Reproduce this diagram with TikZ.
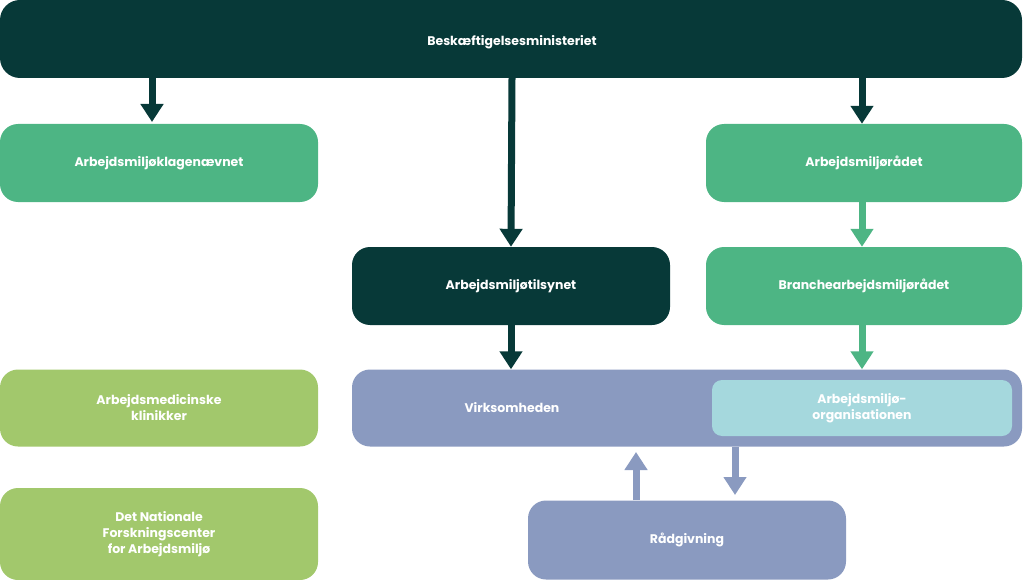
\documentclass[tikz,border=0pt]{standalone}
\usepackage{fontspec}
\setmainfont{Poppins}
\usetikzlibrary{arrows.meta}
\definecolor{dark}{HTML}{073938}
\definecolor{grn}{HTML}{4DB584}
\definecolor{lgrn}{HTML}{A2C86C}
\definecolor{blu}{HTML}{8A9AC0}
\definecolor{cyan}{HTML}{A5D8DD}
\begin{document}
\begin{tikzpicture}[x=1pt,y=-1pt,
 box/.style={rounded corners=18pt,inner sep=0pt,text=white,font=\bfseries\fontsize{12.5}{16}\selectfont,align=center},
 arr/.style={line width=7pt,-{Triangle[width=22pt,length=18pt]}}]
\useasboundingbox (0,0) rectangle (1024,580);
\fill[dark,rounded corners=20pt] (0,0) rectangle (1022,78);
\node[text=white,font=\bfseries\fontsize{12.5}{16}\selectfont] (top) at (512,42) {Beskæftigelsesministeriet};
\coordinate (t1) at (152,78); \coordinate (t2) at (512,78); \coordinate (t3) at (862,78);
\node[box,fill=grn,minimum width=318pt,minimum height=78pt] (kl) at (159,163) {Arbejdsmiljøklagenævnet};
\node[box,fill=grn,minimum width=316pt,minimum height=78pt] (ar) at (864,163) {Arbejdsmiljørådet};
\node[box,fill=dark,minimum width=318pt,minimum height=78pt] (ti) at (511,286) {Arbejdsmiljøtilsynet};
\node[box,fill=grn,minimum width=316pt,minimum height=78pt] (br) at (864,286) {Branchearbejdsmiljørådet};
\node[box,fill=lgrn,minimum width=318pt,minimum height=77pt] (me) at (159,408) {Arbejdsmedicinske\\klinikker};
\node[box,fill=lgrn,minimum width=318pt,minimum height=92pt] (fo) at (159,534) {Det Nationale\\Forskningscenter\\for Arbejdsmiljø};
\node[box,fill=blu,minimum width=670pt,minimum height=77pt] (vi) at (687,408) {};
\node[text=white,font=\bfseries\fontsize{12.5}{16}\selectfont] (vt) at (512,408) {Virksomheden};
\node[box,fill=cyan,rounded corners=10pt,minimum width=300pt,minimum height=56pt] (ao) at (862,408) {Arbejdsmiljø-\\organisationen};
\node[box,fill=blu,minimum width=318pt,minimum height=79pt] (ra) at (687,540) {Rådgivning};
\draw[arr,dark] (t1) -- (152,122);
\draw[arr,dark] (t2) -- (ti.north);
\draw[arr,dark] (t3) -- (ar.north -| t3);
\draw[arr,grn] (ar.south -| t3) -- (br.north -| t3);
\draw[arr,grn] (br.south -| t3) -- (vi.north -| t3);
\draw[arr,dark] (ti.south) -- (vi.north -| ti);
\draw[arr,blu] (ra.north -| 636,0) -- (636,452);
\draw[arr,blu] (vi.south -| 735,0) -- (735,495);
\end{tikzpicture}
\end{document}
